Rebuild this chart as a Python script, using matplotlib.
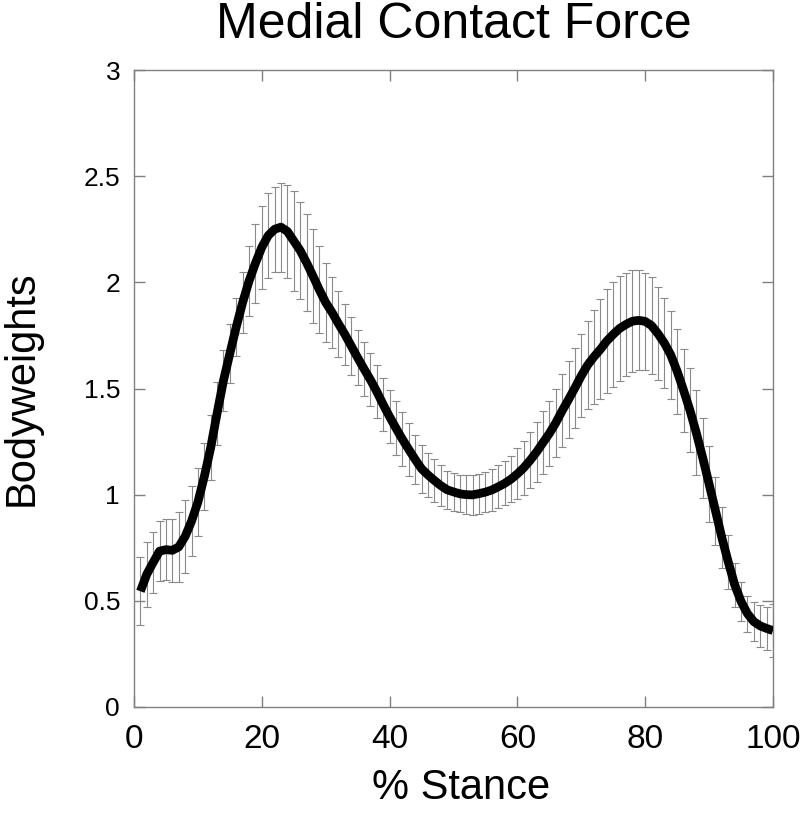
import matplotlib
matplotlib.use("Agg")
import matplotlib.pyplot as plt
import numpy as np

plt.rcParams['font.family'] = ['Liberation Sans', 'DejaVu Sans']

stance = list(range(1, 101))
mean_bw = [
    0.545, 0.625, 0.681, 0.734, 0.741, 0.738, 0.754, 0.803, 0.875, 0.965,
    1.085, 1.221, 1.383, 1.537, 1.665, 1.790, 1.905, 2.006, 2.090, 2.165,
    2.220, 2.250, 2.260, 2.240, 2.195, 2.150, 2.093, 2.030, 1.965, 1.905,
    1.858, 1.805, 1.755, 1.700, 1.645, 1.592, 1.541, 1.485, 1.424, 1.367,
    1.313, 1.261, 1.213, 1.166, 1.122, 1.093, 1.067, 1.043, 1.023, 1.013,
    1.004, 1.000, 0.999, 1.005, 1.012, 1.022, 1.037, 1.053, 1.073, 1.098,
    1.127, 1.162, 1.201, 1.245, 1.288, 1.338, 1.395, 1.448, 1.503, 1.560,
    1.611, 1.650, 1.685, 1.724, 1.755, 1.783, 1.802, 1.817, 1.821, 1.816,
    1.796, 1.758, 1.714, 1.658, 1.581, 1.492, 1.398, 1.291, 1.174, 1.050,
    0.924, 0.797, 0.683, 0.576, 0.497, 0.440, 0.402, 0.382, 0.370, 0.360,
]
sd_bw = [
    0.160, 0.152, 0.142, 0.141, 0.143, 0.149, 0.163, 0.173, 0.166, 0.162,
    0.157, 0.153, 0.149, 0.143, 0.140, 0.138, 0.145, 0.164, 0.185, 0.196,
    0.200, 0.200, 0.210, 0.220, 0.235, 0.230, 0.228, 0.220, 0.205, 0.185,
    0.168, 0.155, 0.142, 0.136, 0.130, 0.127, 0.125, 0.125, 0.124, 0.126,
    0.127, 0.127, 0.125, 0.117, 0.112, 0.105, 0.100, 0.095, 0.090, 0.088,
    0.087, 0.091, 0.094, 0.094, 0.094, 0.097, 0.101, 0.104, 0.107, 0.120,
    0.127, 0.132, 0.140, 0.148, 0.153, 0.160, 0.172, 0.180, 0.187, 0.195,
    0.206, 0.222, 0.236, 0.243, 0.246, 0.247, 0.243, 0.241, 0.235, 0.230,
    0.228, 0.218, 0.210, 0.207, 0.201, 0.196, 0.198, 0.200, 0.189, 0.177,
    0.161, 0.144, 0.125, 0.104, 0.090, 0.085, 0.091, 0.098, 0.102, 0.123,
]
xticks = [0, 20, 40, 60, 80, 100]
yticks = [0, 0.5, 1, 1.5, 2, 2.5, 3]
ytick_labels = ['0', '0.5', '1', '1.5', '2', '2.5', '3']

W, H = 800, 815
fig = plt.figure(figsize=(W / 100, H / 100), dpi=100)
L, R, T, B = 134, 773, 70, 707
ax = fig.add_axes([L / W, 1 - B / H, (R - L) / W, (B - T) / H])

ax.errorbar(stance, mean_bw, yerr=sd_bw, fmt='none', ecolor='#8a8a8a',
            elinewidth=0.8, capsize=2.8, capthick=0.8, zorder=2)
ax.plot(stance, mean_bw, color='black', lw=6.3, solid_capstyle='butt', zorder=3)

ax.set_xlim(0, 100)
ax.set_ylim(0, 3)
ax.set_xticks(xticks)
ax.set_yticks(yticks)
ax.set_yticklabels(ytick_labels)

for s in ax.spines.values():
    s.set_color('#808080')
    s.set_linewidth(1.0)

ax.tick_params(axis='both', direction='in', length=8, width=1.0,
               color='#808080', top=True, right=True)
ax.tick_params(axis='x', labelsize=24, pad=12)
ax.tick_params(axis='y', labelsize=19, pad=10)

cx = (L + R) / 2 / W
fig.text(cx, 1 - 25 / H, 'Medial Contact Force', ha='center', va='center',
         fontsize=36)
fig.text(cx + 8 / W, 1 - 788 / H, '% Stance', ha='center', va='center',
         fontsize=30)
fig.text(22 / W, 1 - 388 / H, 'Bodyweights', ha='center', va='center',
         rotation=90, fontsize=30)

fig.savefig('out.png', dpi=100)
